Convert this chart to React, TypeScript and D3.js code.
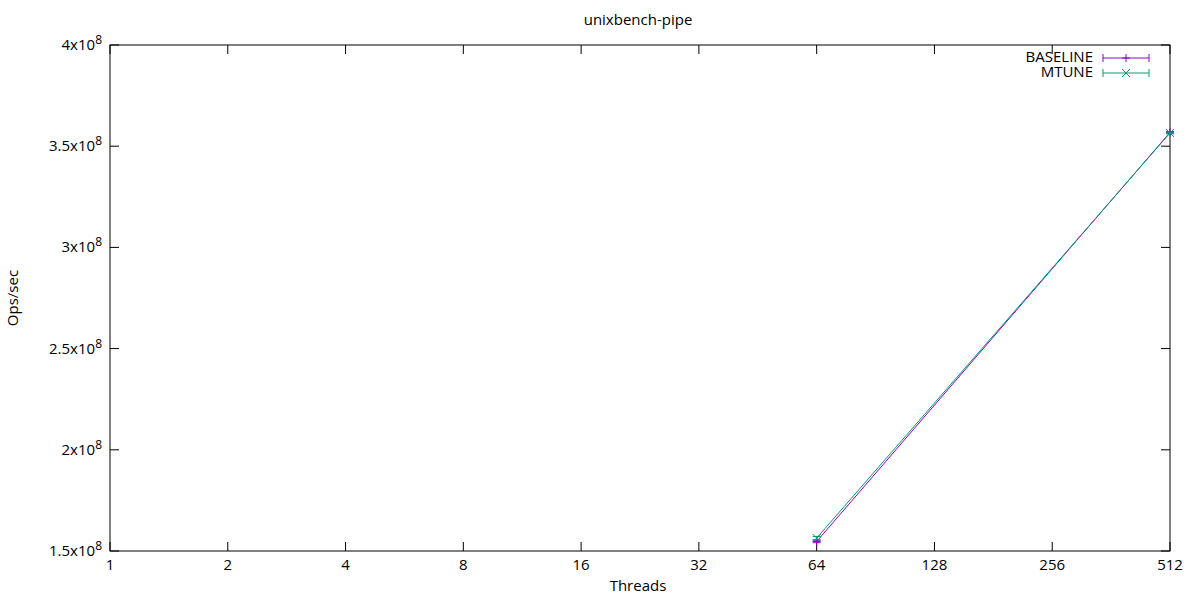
import React from "react";
import * as d3 from "d3";

const title = "unixbench-pipe";
const xTicks = [1, 2, 4, 8, 16, 32, 64, 128, 256, 512];
const yTicks = [1.5e8, 2e8, 2.5e8, 3e8, 3.5e8, 4e8];
const yTickLabels = ["1.5", "2", "2.5", "3", "3.5", "4"];
const threads = [64, 512];
const baseline = [1.547e8, 3.568e8];
const baselineErr = [0.006e8, 0.004e8];
const mtune = [1.564e8, 3.565e8];
const mtuneErr = [0.008e8, 0.004e8];

const W = 1200, H = 600;
const L = 110, R = 1170, T = 45, B = 551;
const FONT = "'Open Sans', 'Noto Sans', sans-serif";
const FS = 15;

export default function App() {
  const x = d3.scaleLog().base(2).domain([1, 512]).range([L, R]);
  const y = d3.scaleLinear().domain([1.5e8, 4e8]).range([B, T]);
  const line = d3.line<[number, number]>().x(d => x(d[0])).y(d => y(d[1]));
  const series = [
    { name: "BASELINE", vals: baseline, err: baselineErr, color: "#9400d3", mark: "plus" },
    { name: "MTUNE", vals: mtune, err: mtuneErr, color: "#009e73", mark: "cross" },
  ];
  const marker = (mark: string, cx: number, cy: number, color: string, k: string) =>
    mark === "plus" ? (
      <g key={k} stroke={color} strokeWidth={1}>
        <line x1={cx - 4} x2={cx + 4} y1={cy} y2={cy} />
        <line x1={cx} x2={cx} y1={cy - 4} y2={cy + 4} />
      </g>
    ) : (
      <g key={k} stroke={color} strokeWidth={1}>
        <line x1={cx - 4} x2={cx + 4} y1={cy - 4} y2={cy + 4} />
        <line x1={cx - 4} x2={cx + 4} y1={cy + 4} y2={cy - 4} />
      </g>
    );
  return (
    <svg width={W} height={H} style={{ position: "absolute", left: 0, top: 0, background: "#fff" }} fontFamily={FONT}>
      <rect width={W} height={H} fill="#fff" />
      <text x={638} y={25} textAnchor="middle" fontSize={FS}>{title}</text>
      {xTicks.map(t => (
        <g key={"x" + t}>
          <line x1={x(t)} x2={x(t)} y1={B} y2={B - 9} stroke="#000" />
          <line x1={x(t)} x2={x(t)} y1={T} y2={T + 9} stroke="#000" />
          <text x={x(t)} y={B + 19} textAnchor="middle" fontSize={FS}>{t}</text>
        </g>
      ))}
      {yTicks.map((t, i) => (
        <g key={"y" + t}>
          <line x1={L} x2={L + 9} y1={y(t)} y2={y(t)} stroke="#000" />
          <line x1={R} x2={R - 9} y1={y(t)} y2={y(t)} stroke="#000" />
          <text x={L - 8} y={y(t) + 5} textAnchor="end" fontSize={FS}>
            {yTickLabels[i]}x10<tspan dy={-6} fontSize={12}>8</tspan>
          </text>
        </g>
      ))}
      <rect x={L} y={T} width={R - L} height={B - T} fill="none" stroke="#000" />
      <text x={638} y={591} textAnchor="middle" fontSize={FS}>Threads</text>
      <text transform={`translate(18,298) rotate(-90)`} textAnchor="middle" fontSize={FS}>Ops/sec</text>
      {series.map(s => (
        <g key={s.name}>
          <path d={line(threads.map((t, i) => [t, s.vals[i]] as [number, number])) || ""} fill="none" stroke={s.color} strokeWidth={1} />
          {threads.map((t, i) => {
            const cx = x(t), y1 = y(s.vals[i] - s.err[i]), y2 = y(s.vals[i] + s.err[i]);
            return (
              <g key={t} stroke={s.color}>
                <line x1={cx} x2={cx} y1={y1} y2={y2} />
                <line x1={cx - 4} x2={cx + 4} y1={y1} y2={y1} />
                <line x1={cx - 4} x2={cx + 4} y1={y2} y2={y2} />
              </g>
            );
          })}
          {threads.map((t, i) => marker(s.mark, x(t), y(s.vals[i]), s.color, "m" + t))}
        </g>
      ))}
      {series.map((s, i) => {
        const ly = 58 + i * 15;
        return (
          <g key={"lg" + s.name}>
            <text x={1093} y={ly + 4} textAnchor="end" fontSize={FS}>{s.name}</text>
            <line x1={1103} x2={1149} y1={ly} y2={ly} stroke={s.color} />
            <line x1={1103} x2={1103} y1={ly - 4} y2={ly + 4} stroke={s.color} />
            <line x1={1149} x2={1149} y1={ly - 4} y2={ly + 4} stroke={s.color} />
            {marker(s.mark, 1126, ly, s.color, "lm" + i)}
          </g>
        );
      })}
    </svg>
  );
}
